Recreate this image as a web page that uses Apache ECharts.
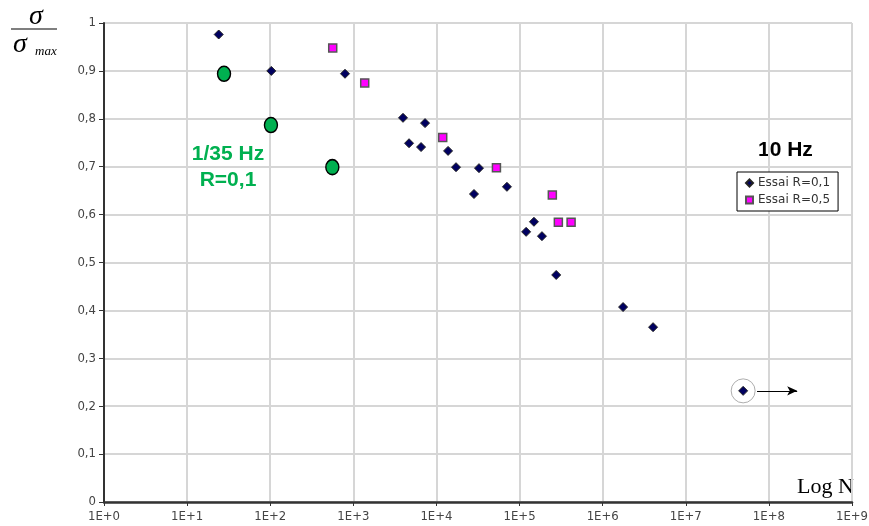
<!DOCTYPE html>
<html><head><meta charset="utf-8">
<script src="https://cdn.jsdelivr.net/npm/echarts@6/dist/echarts.min.js"></script>
<style>html,body{margin:0;padding:0;background:#fff}#c{width:869px;height:526px}</style>
</head><body><div id="c"></div>
<script>
// Essai R=0,1 (10 Hz)
const essaiR01N = [24, 103, 794, 3960, 7290, 4680, 6530, 13800, 17200, 32500, 28300, 70500, 120000, 149000, 186000, 276000, 1760000, 4040000, 49000000];
const essaiR01S = [0.976, 0.900, 0.894, 0.802, 0.791, 0.749, 0.741, 0.733, 0.699, 0.697, 0.643, 0.658, 0.564, 0.585, 0.555, 0.474, 0.407, 0.365, 0.232];
// Essai R=0,5 (10 Hz)
const essaiR05N = [565, 1371, 11900, 52700, 248000, 293000, 417000];
const essaiR05S = [0.948, 0.875, 0.761, 0.698, 0.641, 0.584, 0.584];
// 1/35 Hz, R=0,1
const slowN = [27.8, 102, 559];
const slowS = [0.894, 0.787, 0.699];
// runout point annotation
const runoutN = 49000000;
const runoutS = 0.232;
const arrowFromN = 72000000;
const arrowToN = 219000000;
const yTicks = [0, 0.1, 0.2, 0.3, 0.4, 0.5, 0.6, 0.7, 0.8, 0.9, 1];

const zip = (a, b) => a.map((v, i) => [v, b[i]]);
const chart = echarts.init(document.getElementById('c'));
const tickFont = {fontFamily: 'DejaVu Sans Condensed, DejaVu Sans', fontSize: 13, color: '#444'};
chart.setOption({
  animation: false,
  grid: {left: 104, right: 17, top: 23, bottom: 24, containLabel: false, outerBoundsMode: 'none'},
  xAxis: {
    type: 'log', logBase: 10, min: 1, max: 1e9,
    axisLine: {show: true, lineStyle: {color: '#333', width: 2.5}},
    axisTick: {show: true, length: 4, lineStyle: {color: '#333'}},
    axisLabel: Object.assign({margin: 8, formatter: v => '1E+' + Math.round(Math.log10(v))}, tickFont),
    splitLine: {show: true, lineStyle: {color: '#d6d6d6', width: 2}},
    minorTick: {show: false}
  },
  yAxis: {
    type: 'value', min: 0, max: 1, interval: 0.1,
    axisLine: {show: true, lineStyle: {color: '#333', width: 2}},
    axisTick: {show: true, length: 5, lineStyle: {color: '#333'}},
    axisLabel: Object.assign({margin: 8, formatter: v => String(+v.toFixed(1)).replace('.', ',')}, tickFont),
    splitLine: {show: true, lineStyle: {color: '#d6d6d6', width: 2}}
  },
  legend: {
    left: 737, top: 172, orient: 'vertical',
    data: [{name: 'Essai R=0,1', icon: 'diamond'}, {name: 'Essai R=0,5', icon: 'rect'}],
    backgroundColor: '#fff', borderColor: '#000', borderWidth: 1,
    padding: [5, 8, 5, 8], itemGap: 5, itemWidth: 7, itemHeight: 7,
    textStyle: {fontFamily: 'DejaVu Sans', fontSize: 12, color: '#333', padding: [0, 0, 0, 0]}
  },
  series: [
    {name: 'Essai R=0,1', type: 'scatter', symbol: 'diamond', symbolSize: 9, z: 5,
     itemStyle: {color: '#000060', borderColor: '#222', borderWidth: 1, opacity: 1},
     data: zip(essaiR01N, essaiR01S)},
    {name: 'Essai R=0,5', type: 'scatter', symbol: 'rect', symbolSize: 8, z: 5,
     itemStyle: {color: '#ff00ff', borderColor: '#555', borderWidth: 1.5, opacity: 1},
     data: zip(essaiR05N, essaiR05S)},
    {name: '1/35 Hz', type: 'scatter', symbol: 'circle', symbolSize: [13, 15], z: 6,
     itemStyle: {color: '#00b050', borderColor: '#000', borderWidth: 1.5, opacity: 1},
     data: zip(slowN, slowS)},
    {name: 'runout', type: 'scatter', symbol: 'circle', symbolSize: 24, z: 4, silent: true,
     itemStyle: {color: 'rgba(0,0,0,0)', borderColor: '#999', borderWidth: 1},
     data: [[runoutN, runoutS]]},
    {name: 'arrow', type: 'line', z: 4, silent: true, showSymbol: false,
     lineStyle: {color: '#000', width: 1},
     data: [],
     markLine: {silent: true, symbol: ['none', 'arrow'], symbolSize: [7, 10], animation: false,
       lineStyle: {color: '#000', width: 1, type: 'solid'}, label: {show: false},
       data: [[{coord: [arrowFromN, runoutS]}, {coord: [arrowToN, runoutS]}]]}}
  ],
  graphic: [
    {type: 'text', left: 29, top: 3, style: {text: 'σ', font: 'italic 28px "Liberation Serif", "DejaVu Serif", serif', fill: '#000'}},
    {type: 'line', shape: {x1: 11, y1: 29, x2: 57, y2: 29}, style: {stroke: '#000', lineWidth: 1.2}},
    {type: 'text', left: 13, top: 31, style: {text: 'σ', font: 'italic 28px "Liberation Serif", "DejaVu Serif", serif', fill: '#000'}},
    {type: 'text', left: 35, top: 45, style: {text: 'max', font: 'italic 13px "Liberation Serif", "DejaVu Serif", serif', fill: '#000'}},
    {type: 'text', left: 797, top: 476, style: {text: 'Log N', font: '22px "Liberation Serif", "DejaVu Serif", serif', fill: '#000'}},
    {type: 'text', left: 758, top: 140, style: {text: '10 Hz', font: 'bold 21px "Liberation Sans", Arial, sans-serif', fill: '#000'}},
    {type: 'text', x: 228, y: 154, style: {text: '1/35 Hz', font: 'bold 21px "Liberation Sans", Arial, sans-serif', fill: '#00b050', align: 'center', verticalAlign: 'middle'}},
    {type: 'text', x: 228, y: 180, style: {text: 'R=0,1', font: 'bold 21px "Liberation Sans", Arial, sans-serif', fill: '#00b050', align: 'center', verticalAlign: 'middle'}}
  ]
});
</script></body></html>
